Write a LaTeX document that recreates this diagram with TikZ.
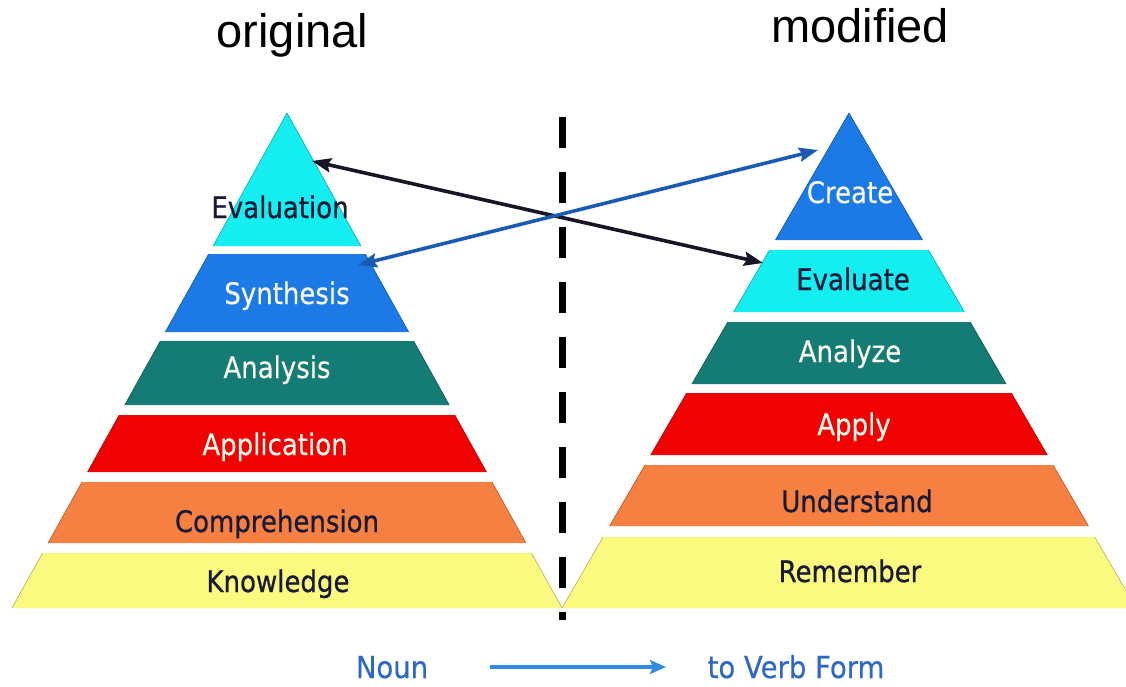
\documentclass[tikz,border=0pt]{standalone}
\usepackage{fontspec}
\setmainfont{DejaVu Sans}
\newfontfamily\titlefont{Liberation Sans}
\newfontfamily\lblfont[FakeBold=0.8]{DejaVu Sans}
\newfontfamily\lblfontlight[FakeBold=0.4]{DejaVu Sans}
\usetikzlibrary{arrows.meta}
\definecolor{cyanB}{RGB}{20,238,240}
\definecolor{blueB}{RGB}{28,122,230}
\definecolor{tealB}{RGB}{20,124,116}
\definecolor{redB}{RGB}{240,2,2}
\definecolor{orangeB}{RGB}{245,128,66}
\definecolor{yellowB}{RGB}{250,250,128}
\definecolor{darkT}{RGB}{26,26,56}
\definecolor{lightT}{RGB}{250,250,236}
\definecolor{arrBlack}{RGB}{22,22,38}
\definecolor{arrBlue}{RGB}{26,90,178}
\definecolor{nounBlue}{RGB}{44,104,196}
\definecolor{arrLight}{RGB}{52,140,226}
% #1 apex x, #2 slope, #3 top y, #4 bottom y, #5 colour
\newcommand\pyrband[5]{%
  \pgfmathsetmacro\pbTL{#1-#2*(#3-113)}%
  \pgfmathsetmacro\pbTR{#1+#2*(#3-113)}%
  \pgfmathsetmacro\pbBL{#1-#2*(#4-113)}%
  \pgfmathsetmacro\pbBR{#1+#2*(#4-113)}%
  \fill[#5] (\pbTL,#3) -- (\pbTR,#3) -- (\pbBR,#4) -- (\pbBL,#4) -- cycle;
  \draw[#5!70!black, line width=0.6] (\pbTL,#3) -- (\pbBL,#4);
  \draw[#5!70!black, line width=0.6] (\pbTR,#3) -- (\pbBR,#4);
}
\newcommand\vstretch[1]{\scalebox{1}[1.14]{#1}}
\begin{document}
\begin{tikzpicture}[x=1pt,y=-1pt,
  lbl/.style={anchor=base, inner sep=0pt},
  darklbl/.style={lbl, text=darkT, font=\lblfont\fontsize{26}{28}\selectfont},
  lightlbl/.style={lbl, text=lightT, font=\lblfontlight\fontsize{26}{28}\selectfont},
  title/.style={anchor=base, inner sep=0pt, font=\titlefont\fontsize{47}{50}\selectfont, text=black},
  bottomtxt/.style={anchor=base, inner sep=0pt, font=\lblfontlight\fontsize{27.5}{30}\selectfont, text=nounBlue},
  linkarrow/.style={line width=3.6, {Stealth[length=19,width=14,inset=3]}-{Stealth[length=19,width=14,inset=3]}},
]
\useasboundingbox (0,0) rectangle (1126,686);
\fill[white] (0,0) rectangle (1126,686);
\begin{scope}
\clip (0,0) rectangle (1126,686);
% left pyramid
\pyrband{287}{0.5556}{113}{246}{cyanB}
\pyrband{287}{0.5556}{254}{332}{blueB}
\pyrband{287}{0.5556}{341}{405}{tealB}
\pyrband{287}{0.5556}{415}{472}{redB}
\pyrband{287}{0.5556}{482}{543}{orangeB}
\pyrband{287}{0.5556}{553}{608}{yellowB}
% right pyramid
\pyrband{849}{0.5798}{113}{240}{blueB}
\pyrband{849}{0.5798}{250}{312}{cyanB}
\pyrband{849}{0.5798}{322}{384}{tealB}
\pyrband{849}{0.5798}{393}{455}{redB}
\pyrband{849}{0.5798}{465}{526}{orangeB}
\pyrband{849}{0.5798}{537}{608}{yellowB}
\end{scope}
% labels left
\node[darklbl]  (lEval) at (280,218) {\vstretch{Evaluation}};
\node[lightlbl] (lSyn)  at (287,304) {\vstretch{Synthesis}};
\node[lightlbl] (lAna)  at (277,378) {\vstretch{Analysis}};
\node[lightlbl] (lApp)  at (275,455) {\vstretch{Application}};
\node[darklbl]  (lComp) at (277,532) {\vstretch{Comprehension}};
\node[darklbl]  (lKnow) at (278,592) {\vstretch{Knowledge}};
% labels right
\node[lightlbl] (rCre)  at (850,203) {\vstretch{Create}};
\node[darklbl]  (rEval) at (853,290) {\vstretch{Evaluate}};
\node[lightlbl] (rAna)  at (850,362) {\vstretch{Analyze}};
\node[lightlbl] (rApp)  at (854,435) {\vstretch{Apply}};
\node[darklbl]  (rUnd)  at (857,512) {\vstretch{Understand}};
\node[darklbl]  (rRem)  at (850,582) {\vstretch{Remember}};
% titles
\node[title] (tOrig) at (292.5,47) {original};
\node[title] (tMod)  at (860,42) {modified};
% dashed divider
\coordinate (dTop) at (562,117);
\coordinate (dBot) at (562,620);
\draw[black, line width=7, dash pattern=on 31 off 24] (dTop) -- (dBot);
% crossing arrows
\coordinate (bkL) at (312,161);
\coordinate (bkR) at (763,263);
\coordinate (blL) at (358,265);
\coordinate (blR) at (818,150);
\draw[linkarrow, arrBlack] (bkL) -- (bkR);
\draw[linkarrow, arrBlue] (blL) -- (blR);
% bottom
\node[bottomtxt] (noun) at (392,678) {\scalebox{1}[1.1]{Noun}};
\node[bottomtxt] (verb) at (796,678) {\scalebox{1}[1.1]{to Verb Form}};
\coordinate (nA) at (490,667);
\coordinate (nB) at (666,667);
\draw[arrLight, line width=4, -{Stealth[length=16,width=14,inset=3]}] (nA) -- (nB);
\end{tikzpicture}
\end{document}
